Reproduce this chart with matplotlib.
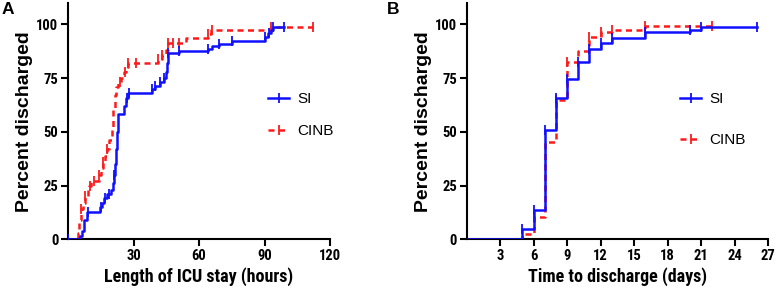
import numpy as np
import matplotlib
matplotlib.use("Agg")
import matplotlib.pyplot as plt
from matplotlib.lines import Line2D

plt.rcParams['font.family'] = ['Liberation Sans', 'DejaVu Sans']
NARROW = ['Roboto Condensed', 'Liberation Sans', 'DejaVu Sans']

# ---------------- Panel A data (hours, percent discharged) ----------------
si_a_t = [0, 5.5, 6.5, 7.5, 8.5, 14.5, 15.5, 16.5, 18, 19.5, 20.5, 21, 21.5, 22, 22.5, 23,
          25.5, 26.5, 27.5, 38.5, 40, 42, 44, 45, 45.5, 46, 51, 64, 66, 69, 75, 90, 91.5, 93, 94, 99]
si_a_y = [0, 1.5, 4, 9, 12.7, 15, 17, 19, 21, 23, 26, 30, 35, 42, 50, 58.5,
          62, 66, 68.3, 70, 71.5, 73, 75, 78, 82, 86.5, 87.5, 88.5, 90, 91, 92.5, 94, 96, 97.5, 98.8, 98.8]
si_a_cens = [0, 9, 15, 17, 19, 21, 27, 28, 38.5, 40, 42, 44, 46, 51, 64, 69, 75, 90, 92, 94, 99]

cinb_a_t = [0, 4.5, 5.2, 6, 7, 8, 9, 9.8, 10.5, 14, 15, 16, 17, 18, 19, 20, 20.7, 21.3, 22, 23,
            24.5, 25.5, 26.5, 27.5, 41, 43, 45, 46, 54, 64, 65.5, 93, 112]
cinb_a_y = [0, 3, 9, 14, 17, 20, 23, 25, 27, 30, 33, 36, 39, 42, 46, 52, 60, 67, 71, 73,
            75, 78, 80, 82, 84, 86, 88, 91.5, 93.5, 95.5, 97.3, 98.8, 98.8]
cinb_a_cens = [6, 8, 10, 12, 14, 16, 18, 24, 26, 27.5, 31, 41, 43, 46, 48, 51, 64, 66, 93, 112]

# ---------------- Panel B data (days, percent discharged) ----------------
si_b_t = [0, 5, 6, 7, 8, 9, 10, 11, 12, 13, 16, 20, 21, 26]
si_b_y = [0, 5, 13.7, 51, 66, 74.7, 82.4, 88.7, 91.3, 93.8, 96.3, 97.5, 98.8, 98.8]
si_b_cens = [5, 6, 7, 8, 9, 10, 11, 12, 13, 16, 20, 21, 26]

cinb_b_t = [0, 5, 6, 7, 8, 9, 10, 11, 12, 13, 16, 22]
cinb_b_y = [0, 2.5, 10.5, 45.5, 65, 82.5, 87.5, 94, 96.4, 97.6, 99.4, 99.4]
cinb_b_cens = [6, 8, 9, 11, 12, 13, 16, 22]

yticks = [0, 25, 50, 75, 100]
xticks_a = [30, 60, 90, 120]
xticks_b = [3, 6, 9, 12, 15, 18, 21, 24, 27]

BLUE = '#1010ff'
RED = '#ff1a1a'
LW = 1.8
DASH = (0, (2.4, 1.8))


def step_value(t, y, x):
    idx = np.searchsorted(np.asarray(t), x, side='right') - 1
    return np.asarray(y)[np.clip(idx, 0, len(y) - 1)]


fig = plt.figure(figsize=(7.77, 2.96), dpi=100)
axA = fig.add_axes([68 / 777, 1 - 239.3 / 296, 262 / 777, 236.3 / 296])
axB = fig.add_axes([466.5 / 777, 1 - 239.3 / 296, 301.5 / 777, 236.3 / 296])


def draw(ax, st, sy, sc, ct, cy, cc, xlim, xticks, xlabel, legx, legy, lspace):
    ax.step(st, sy, where='post', color=BLUE, lw=LW, zorder=3)
    ax.plot(sc, step_value(st, sy, sc), ls='none', marker='|', ms=7, mew=1.3, color=BLUE, zorder=3)
    ax.step(ct, cy, where='post', color=RED, lw=LW, ls=DASH, zorder=2)
    ax.plot(cc, step_value(ct, cy, cc), ls='none', marker='|', ms=7, mew=1.3, color=RED, zorder=2)
    ax.set_xlim(*xlim)
    ax.set_ylim(0, 110)
    ax.set_xticks(xticks)
    ax.set_yticks(yticks)
    for s in ['top', 'right']:
        ax.spines[s].set_visible(False)
    for s in ['left', 'bottom']:
        ax.spines[s].set_linewidth(1.5)
    ax.tick_params(direction='out', length=5, width=1.5, pad=2)
    for lab in ax.get_xticklabels() + ax.get_yticklabels():
        lab.set_fontweight('bold')
        lab.set_fontsize(10.5)
        lab.set_family(NARROW)
    ax.set_xlabel(xlabel, fontsize=13, fontweight='bold', family=NARROW, labelpad=3)
    ax.set_ylabel('Percent discharged', fontsize=14, fontweight='bold', labelpad=2)
    h1 = Line2D([], [], color=BLUE, lw=LW, marker='|', ms=7, mew=1.3)
    h2 = Line2D([], [], color=RED, lw=LW, ls=DASH, marker='|', ms=7, mew=1.3)
    ax.legend([h1, h2], ['SI', 'CINB'], loc='center left', bbox_to_anchor=(legx, legy),
              frameon=False, numpoints=1, handlelength=1.4, handletextpad=0.5,
              labelspacing=lspace, borderpad=0, borderaxespad=0, fontsize=11)


draw(axA, si_a_t, si_a_y, si_a_cens, cinb_a_t, cinb_a_y, cinb_a_cens,
     (0, 120), xticks_a, 'Length of ICU stay (hours)', 0.763, 0.525, 1.2)
draw(axB, si_b_t, si_b_y, si_b_cens, cinb_b_t, cinb_b_y, cinb_b_cens,
     (0, 27), xticks_b, 'Time to discharge (days)', 0.708, 0.506, 1.8)

fig.text(2 / 777, 1 - 2 / 296, 'A', fontsize=12.5, fontweight='bold', va='top', ha='left')
fig.text(387 / 777, 1 - 2 / 296, 'B', fontsize=12.5, fontweight='bold', va='top', ha='left')

fig.savefig('out.png', dpi=100)
